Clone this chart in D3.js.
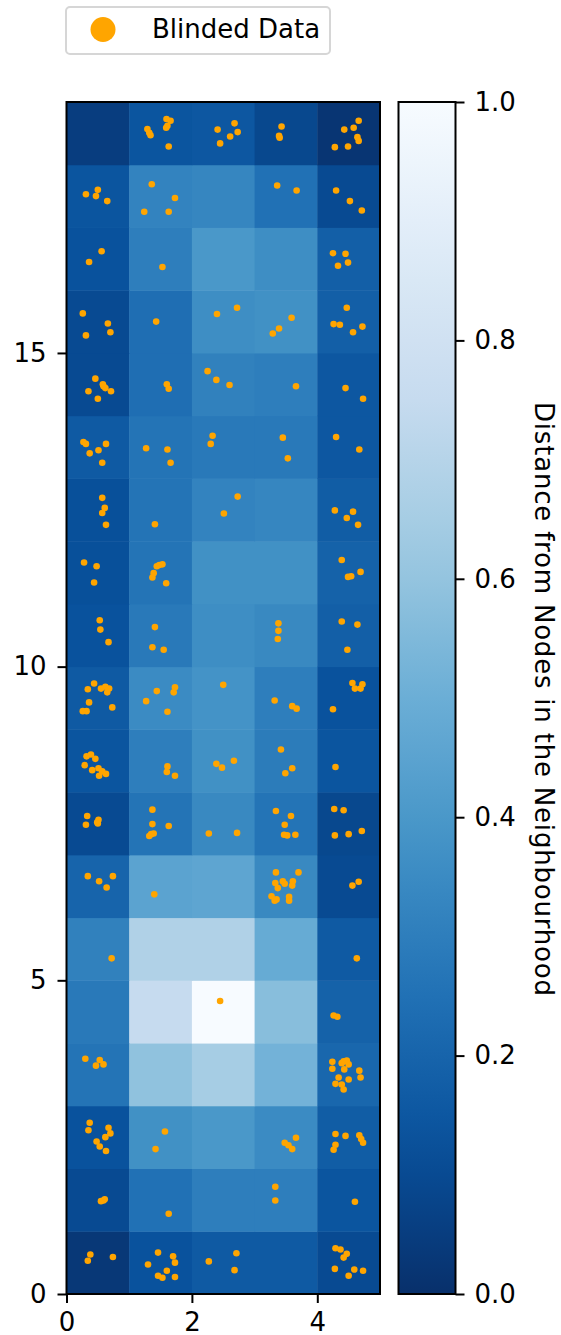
<!DOCTYPE html>
<html>
<head>
<meta charset="utf-8">
<script src="https://cdn.jsdelivr.net/npm/d3@7"></script>
<style>
  body { margin: 0; background: #fff; }
  text { font-family: "DejaVu Sans", sans-serif; }
</style>
</head>
<body>
<svg id="chart"></svg>
<script>
// cell values, bottom row (y 0-1) first, 5 columns each
const cellValues = [
  [0.03, 0.13, 0.16, 0.16, 0.10],
  [0.10, 0.25, 0.30, 0.30, 0.14],
  [0.13, 0.37, 0.40, 0.35, 0.17],
  [0.26, 0.59, 0.65, 0.52, 0.21],
  [0.28, 0.75, 1.00, 0.57, 0.19],
  [0.31, 0.68, 0.68, 0.485, 0.16],
  [0.20, 0.45, 0.46, 0.34, 0.10],
  [0.10, 0.26, 0.34, 0.26, 0.09],
  [0.14, 0.30, 0.37, 0.29, 0.14],
  [0.16, 0.35, 0.38, 0.30, 0.13],
  [0.13, 0.28, 0.36, 0.34, 0.18],
  [0.12, 0.26, 0.37, 0.37, 0.19],
  [0.12, 0.26, 0.32, 0.33, 0.17],
  [0.16, 0.26, 0.28, 0.28, 0.15],
  [0.10, 0.24, 0.31, 0.30, 0.15],
  [0.10, 0.24, 0.36, 0.37, 0.18],
  [0.13, 0.30, 0.40, 0.36, 0.18],
  [0.14, 0.32, 0.33, 0.25, 0.10],
  [0.05, 0.14, 0.15, 0.09, 0.02]
];

// blinded data points [x, y]
const blinded = [
  // row 18
  [1.29,18.57],[1.32,18.51],[1.34,18.47],[1.595,18.73],[1.66,18.70],[1.61,18.62],[1.59,18.59],[1.63,18.29],
  [2.41,18.56],[2.68,18.66],[2.73,18.52],[2.61,18.45],[2.45,18.34],
  [3.43,18.61],[3.39,18.46],[3.40,18.43],
  [4.43,18.56],[4.58,18.59],[4.66,18.70],[4.64,18.44],[4.66,18.38],[4.49,18.29],[4.28,18.28],
  // row 17
  [0.31,17.53],[0.50,17.60],[0.47,17.50],[0.65,17.42],
  [1.36,17.69],[1.73,17.47],[1.24,17.25],[1.63,17.25],
  [3.36,17.67],[3.67,17.59],
  [4.30,17.59],[4.52,17.42],[4.71,17.27],
  // row 16
  [0.56,16.62],[0.36,16.45],
  [1.53,16.37],
  [4.25,16.59],[4.45,16.58],[4.33,16.39],[4.49,16.44],
  // row 15
  [0.26,15.63],[0.66,15.47],[0.70,15.33],[0.31,15.28],
  [1.43,15.50],
  [2.40,15.62],[2.72,15.72],
  [3.59,15.56],[3.39,15.39],[3.29,15.31],
  [4.47,15.72],[4.26,15.46],[4.36,15.45],[4.57,15.33],[4.72,15.42],
  // row 14
  [0.46,14.59],[0.58,14.50],[0.62,14.44],[0.59,14.47],[0.35,14.39],[0.71,14.39],[0.50,14.27],
  [1.60,14.50],[1.63,14.43],
  [2.25,14.71],[2.39,14.57],[2.60,14.49],
  [3.66,14.47],
  [4.45,14.44],[4.73,14.27],
  // row 13
  [0.27,13.58],[0.31,13.55],[0.37,13.40],[0.51,13.45],[0.63,13.55],[0.57,13.25],
  [1.27,13.48],[1.61,13.46],[1.66,13.25],
  [2.33,13.68],[2.30,13.55],
  [3.45,13.65],[3.53,13.32],
  [4.30,13.66],[4.67,13.46],
  // row 12
  [0.57,12.69],[0.61,12.53],[0.57,12.45],[0.63,12.26],
  [1.41,12.27],
  [2.73,12.71],[2.51,12.44],
  [4.28,12.49],[4.47,12.37],[4.57,12.47],[4.65,12.26],
  // row 11
  [0.28,11.66],[0.48,11.60],[0.44,11.34],
  [1.44,11.60],[1.48,11.62],[1.53,11.63],[1.39,11.49],[1.37,11.42],[1.59,11.33],
  [4.39,11.70],[4.49,11.43],[4.54,11.44],[4.69,11.51],
  // row 10
  [0.53,10.74],[0.54,10.59],[0.67,10.39],
  [1.41,10.63],[1.37,10.31],[1.55,10.27],
  [3.38,10.69],[3.38,10.57],[3.37,10.44],
  [4.39,10.72],[4.64,10.67],[4.48,10.27],
  // row 9
  [0.44,9.73],[0.34,9.64],[0.55,9.65],[0.62,9.68],[0.68,9.65],[0.65,9.59],[0.36,9.43],[0.26,9.29],[0.32,9.29],[0.73,9.35],
  [1.44,9.61],[1.73,9.67],[1.71,9.59],[1.27,9.45],[1.61,9.28],
  [2.50,9.71],
  [3.32,9.46],[3.60,9.37],[3.67,9.33],
  [4.56,9.74],[4.72,9.72],[4.60,9.65],[4.69,9.65],[4.25,9.32],
  // row 8
  [0.32,8.57],[0.39,8.60],[0.46,8.53],[0.29,8.43],[0.41,8.35],[0.51,8.38],[0.57,8.33],[0.63,8.29],[0.52,8.26],
  [1.61,8.41],[1.60,8.32],[1.73,8.26],
  [2.39,8.45],[2.48,8.39],[2.67,8.50],
  [3.42,8.68],[3.60,8.38],[3.49,8.30],
  [4.29,8.40],
  // row 7
  [0.33,7.62],[0.31,7.48],[0.49,7.52],[0.51,7.56],[0.50,7.50],
  [1.37,7.72],[1.37,7.49],[1.63,7.46],[1.32,7.30],[1.39,7.34],[1.35,7.33],
  [2.27,7.34],[2.72,7.35],
  [3.34,7.70],[3.58,7.62],[3.48,7.48],[3.47,7.32],[3.52,7.31],[3.65,7.32],
  [4.27,7.73],[4.42,7.71],[4.28,7.31],[4.50,7.33],[4.71,7.38],
  // row 6
  [0.34,6.66],[0.52,6.58],[0.74,6.66],[0.64,6.48],
  [1.40,6.37],
  [3.34,6.72],[3.70,6.72],[3.33,6.55],[3.45,6.58],[3.48,6.54],[3.61,6.58],[3.60,6.51],[3.37,6.47],
  [3.27,6.34],[3.32,6.27],[3.35,6.29],[3.55,6.33],[3.55,6.27],
  [4.56,6.51],[4.66,6.57],
  // row 5
  [0.72,5.35],[4.63,5.35],
  // row 4
  [2.45,4.67],[4.26,4.44],[4.32,4.42],
  // row 3
  [0.30,3.75],[0.53,3.73],[0.47,3.64],[0.59,3.66],
  [4.24,3.70],[4.39,3.68],[4.42,3.71],[4.47,3.72],[4.50,3.66],[4.24,3.59],[4.43,3.58],[4.67,3.56],
  [4.34,3.45],[4.50,3.42],[4.69,3.45],[4.29,3.35],[4.39,3.34],[4.42,3.26],
  // row 2
  [0.37,2.73],[0.35,2.61],[0.67,2.65],[0.70,2.56],[0.62,2.50],[0.48,2.43],[0.53,2.35],[0.63,2.28],
  [1.57,2.59],[1.42,2.31],
  [3.48,2.41],[3.54,2.37],[3.60,2.31],[3.66,2.49],
  [4.29,2.55],[4.45,2.52],[4.67,2.53],[4.70,2.47],[4.73,2.41],[4.29,2.38],[4.26,2.30],
  // row 1
  [0.55,1.48],[0.61,1.51],[0.59,1.49],
  [1.63,1.28],
  [3.33,1.71],[3.33,1.49],
  [4.60,1.47],
  // row 0
  [0.38,0.63],[0.34,0.53],[0.74,0.59],
  [1.46,0.66],[1.70,0.60],[1.73,0.50],[1.30,0.47],[1.60,0.37],[1.46,0.29],[1.53,0.26],[1.73,0.27],
  [2.27,0.52],[2.71,0.65],[2.68,0.38],
  [4.29,0.73],[4.37,0.71],[4.47,0.64],[4.42,0.58],[4.28,0.40],[4.59,0.39],[4.73,0.37],[4.50,0.29]
];

const xTicks = [0, 2, 4];
const yTicks = [0, 5, 10, 15];
const cbTicks = [0, 0.2, 0.4, 0.6, 0.8, 1.0];
const legendLabel = 'Blinded Data';
const cbLabel = 'Distance from Nodes in the Neighbourhood';

// matplotlib "Blues_r"
const blues = ['#f7fbff', '#deebf7', '#c6dbef', '#9ecae1', '#6baed6', '#4292c6', '#2171b5', '#08519c', '#08306b'];
const color = d3.scaleLinear()
  .domain(d3.range(blues.length).map(i => 1 - i / (blues.length - 1)))
  .range(blues)
  .clamp(true);

const width = 561, height = 1335;
const plot = { left: 66.5, right: 380, top: 102, bottom: 1294 };
const cb = { left: 398.5, right: 455.5 };
const fontSize = 26;

const svg = d3.select('#chart')
  .attr('width', width)
  .attr('height', height);

const x = d3.scaleLinear().domain([0, 5]).range([plot.left, plot.right]);
const y = d3.scaleLinear().domain([0, 19]).range([plot.bottom, plot.top]);

// heatmap cells
const cells = [];
cellValues.forEach((row, r) => row.forEach((v, c) => cells.push({ r, c, v })));

svg.append('g')
  .selectAll('rect')
  .data(cells)
  .enter()
  .append('rect')
  .attr('x', d => x(d.c))
  .attr('y', d => y(d.r + 1))
  .attr('width', x(1) - x(0) + 0.5)
  .attr('height', y(0) - y(1) + 0.5)
  .attr('fill', d => color(d.v));

// scatter
svg.append('g')
  .selectAll('circle')
  .data(blinded)
  .enter()
  .append('circle')
  .attr('cx', d => x(d[0]))
  .attr('cy', d => y(d[1]))
  .attr('r', 3.3)
  .attr('fill', '#ffa500');

// frame
svg.append('rect')
  .attr('x', plot.left)
  .attr('y', plot.top)
  .attr('width', plot.right - plot.left)
  .attr('height', plot.bottom - plot.top)
  .attr('fill', 'none')
  .attr('stroke', '#000')
  .attr('stroke-width', 2);

function styleAxis(g) {
  g.select('.domain').remove();
  g.selectAll('.tick line').attr('stroke', '#000').attr('stroke-width', 2);
  g.selectAll('.tick text')
    .attr('fill', '#000')
    .style('font-family', '"DejaVu Sans", sans-serif')
    .style('font-size', fontSize + 'px');
}

svg.append('g')
  .attr('transform', `translate(0,${plot.bottom})`)
  .call(d3.axisBottom(x).tickValues(xTicks).tickFormat(d3.format('d')).tickSize(9).tickPadding(10))
  .call(styleAxis);

svg.append('g')
  .attr('transform', `translate(${plot.left},0)`)
  .call(d3.axisLeft(y).tickValues(yTicks).tickFormat(d3.format('d')).tickSize(9).tickPadding(11))
  .call(styleAxis);

// colorbar
const cbScale = d3.scaleLinear().domain([0, 1]).range([plot.bottom, plot.top]);

const grad = svg.append('defs')
  .append('linearGradient')
  .attr('id', 'cbgrad')
  .attr('x1', 0).attr('y1', 1).attr('x2', 0).attr('y2', 0);

grad.selectAll('stop')
  .data(d3.range(0, 1.0001, 0.05))
  .enter()
  .append('stop')
  .attr('offset', d => d)
  .attr('stop-color', d => color(d));

svg.append('rect')
  .attr('x', cb.left)
  .attr('y', plot.top)
  .attr('width', cb.right - cb.left)
  .attr('height', plot.bottom - plot.top)
  .attr('fill', 'url(#cbgrad)')
  .attr('stroke', '#000')
  .attr('stroke-width', 2);

svg.append('g')
  .attr('transform', `translate(${cb.right},0)`)
  .call(d3.axisRight(cbScale).tickValues(cbTicks).tickFormat(d3.format('.1f')).tickSize(9).tickPadding(10))
  .call(styleAxis);

svg.append('text')
  .attr('transform', `translate(535,699) rotate(90)`)
  .attr('text-anchor', 'middle')
  .attr('font-size', fontSize + 'px')
  .attr('textLength', 594)
  .attr('lengthAdjust', 'spacing')
  .attr('fill', '#000')
  .text(cbLabel);

// legend
const legend = svg.append('g');
legend.append('rect')
  .attr('x', 66)
  .attr('y', 7)
  .attr('width', 264)
  .attr('height', 47)
  .attr('rx', 4)
  .attr('fill', '#fff')
  .attr('fill-opacity', 0.8)
  .attr('stroke', '#d6d6d6')
  .attr('stroke-width', 2);

legend.append('circle')
  .attr('cx', 103)
  .attr('cy', 29.5)
  .attr('r', 12.5)
  .attr('fill', '#ffa500');

legend.append('text')
  .attr('x', 152)
  .attr('y', 37.5)
  .attr('font-size', fontSize + 'px')
  .attr('fill', '#000')
  .text(legendLabel);
</script>
</body>
</html>
